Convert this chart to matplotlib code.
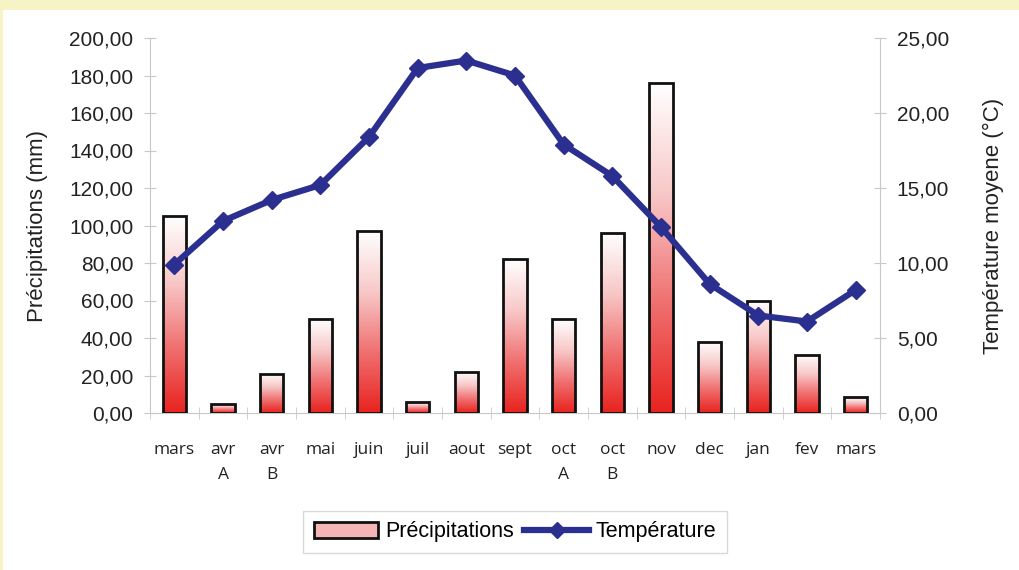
import matplotlib
matplotlib.use("Agg")
import matplotlib.pyplot as plt
import numpy as np
from matplotlib.colors import LinearSegmentedColormap
from matplotlib.patches import Rectangle
from matplotlib.lines import Line2D

categories = ["mars", "avr\nA", "avr\nB", "mai", "juin", "juil", "aout", "sept",
              "oct\nA", "oct\nB", "nov", "dec", "jan", "fev", "mars"]
precip = [105, 5, 21, 50, 97, 6, 22, 82, 50, 96, 176, 38, 60, 31, 8.5]
temp = [9.9, 12.8, 14.2, 15.2, 18.4, 23.0, 23.5, 22.5, 17.9, 15.8, 12.4, 8.6, 6.5, 6.1, 8.2]
prec_ticks = [0, 20, 40, 60, 80, 100, 120, 140, 160, 180, 200]
temp_ticks = [0, 5, 10, 15, 20, 25]

plt.rcParams['font.family'] = ['Liberation Sans', 'DejaVu Sans']

fig = plt.figure(figsize=(10.19, 5.70), dpi=100)
fig.patch.set_facecolor('white')
# yellow frame strips
fig.patches.append(Rectangle((0, 1 - 10 / 570), 1, 10 / 570, transform=fig.transFigure,
                             facecolor='#f6f4c4', edgecolor='none', zorder=0))
fig.patches.append(Rectangle((0, 0), 3 / 1019, 1, transform=fig.transFigure,
                             facecolor='#f6f4c4', edgecolor='none', zorder=0))

ax = fig.add_axes([150 / 1019, 1 - 413 / 570, 730 / 1019, 375 / 570])
ax2 = ax.twinx()
ax.set_zorder(1)
ax2.set_zorder(2)
ax.patch.set_visible(False)
ax2.patch.set_visible(False)

x = np.arange(len(categories))
cmap = LinearSegmentedColormap.from_list('rg', ['#e8231f', '#f07070', '#f8c8c8', '#ffffff'])
grad = np.linspace(0, 1, 256).reshape(-1, 1)
width = 0.48
bars = ax.bar(x, precip, width=width, facecolor='none', edgecolor='#111111', linewidth=2, zorder=3)
for b in bars:
    bx, by = b.get_x(), b.get_y()
    bw, bh = b.get_width(), b.get_height()
    im = ax.imshow(grad, cmap=cmap, extent=[bx, bx + bw, by, by + bh], origin='lower',
                   aspect='auto', zorder=2, interpolation='bicubic')
    im.set_clip_path(b)

ax.set_xlim(-0.5, len(categories) - 0.5)
ax.set_ylim(0, 200)
ax.set_yticks(prec_ticks)
ax.set_yticklabels([f"{v:.2f}".replace('.', ',') for v in prec_ticks], fontsize=15, color='#222222')
ax.set_xticks(x)
ax.set_xticklabels(categories, fontsize=12.5, color='#222222', family=['Open Sans', 'DejaVu Sans'],
                   linespacing=1.75)
ax.set_xticks(np.arange(-0.5, len(categories), 1), minor=True)
ax.tick_params(axis='x', which='major', length=0, pad=21)
ax.tick_params(axis='x', which='minor', length=8, direction='inout', color='#c8c8c8')
ax.tick_params(axis='y', length=8, direction='inout', color='#c8c8c8', pad=8)
for s in ['top', 'right']:
    ax.spines[s].set_visible(False)
for s in ['left', 'bottom']:
    ax.spines[s].set_color('#c8c8c8')
ax.set_ylabel("Précipitations (mm)", fontsize=16, color='#222222', labelpad=15)

ax2.plot(x, temp, color='#2b2f8f', linewidth=4.5, marker='D', markersize=9,
         markerfacecolor='#2b2f8f', markeredgecolor='#2b2f8f', zorder=5)
ax2.set_ylim(0, 25)
ax2.set_yticks(temp_ticks)
ax2.set_yticklabels([f"{v:.2f}".replace('.', ',') for v in temp_ticks], fontsize=15, color='#222222')
ax2.tick_params(axis='y', length=8, direction='inout', color='#c8c8c8', pad=8)
for s in ['top', 'left', 'bottom']:
    ax2.spines[s].set_visible(False)
ax2.spines['right'].set_color('#c8c8c8')
ax2.set_ylabel("Température moyene (°C)", fontsize=16, color='#222222', labelpad=24)

handles = [Rectangle((0, 0), 1, 1, facecolor='#f5b5b5', edgecolor='#111111', linewidth=2),
           Line2D([0], [0], color='#2b2f8f', linewidth=4.5, marker='D', markersize=8)]
leg = fig.legend(handles, ["Précipitations", "Température"], loc='center',
                 bbox_to_anchor=(515 / 1019, 1 - 532 / 570), ncol=2, fontsize=15.5,
                 frameon=True, fancybox=False, edgecolor='#d0d0d0', handlelength=3.0,
                 handletextpad=0.3, columnspacing=0.5, borderpad=0.5)
leg.get_frame().set_linewidth(1)

fig.savefig("out.png", dpi=100)
